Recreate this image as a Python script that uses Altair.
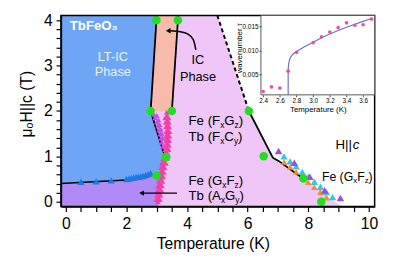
import altair as alt
import pandas as pd

FONT = "Liberation Sans"
XMIN, XMAX = -0.16, 10.19
YMIN, YMAX = -0.108, 4.108

# ---- phase-region outlines (Temperature K, field T) ----
lav_T = [XMIN, XMIN, 5.0, 6.04, 6.83, 7.02, 9.1]
lav_H = [YMIN, YMAX, YMAX, 2.0, 0.97, 0.9, YMIN]
blue_T = [XMIN, 3.0, 2.80, 3.28, 3.15, 3.02, 2.5, 2.0, XMIN]
blue_H = [YMAX, YMAX, 2.0, 1.0, 0.8, 0.62, 0.55, 0.48, 0.40]
purp_T = [XMIN, 2.0, 2.5, 3.02, 3.08, 3.05, XMIN]
purp_H = [0.40, 0.48, 0.55, 0.62, 0.3, YMIN, YMIN]
ic_T = [3.0, 3.71, 3.5, 2.8]
ic_H = [YMAX, YMAX, 2.0, 2.0]

# ---- boundary lines ----
b1_T = [3.0, 2.80, 3.27]; b1_H = [YMAX, 2.0, 1.0]
b2_T = [3.71, 3.5]; b2_H = [YMAX, 2.0]
b3_T = [6.04, 6.83, 7.02, 7.75]; b3_H = [2.0, 0.97, 0.9, 0.55]
b4_T = [XMIN, 2.0]; b4_H = [0.40, 0.48]
dash_T = [5.0, 6.04]; dash_H = [YMAX, 2.0]

# ---- data markers ----
pink_T = [3.04, 3.06, 3.08, 3.10, 3.12, 3.14, 3.16, 3.18, 3.21, 3.25, 3.29, 3.31, 3.33, 3.34, 3.35, 3.35, 3.36, 3.36, 3.35, 3.34, 3.33,
          3.10, 3.12, 3.15, 3.17, 3.19, 3.21, 3.23, 3.26, 3.30, 3.33, 3.37, 3.39, 3.40, 3.41, 3.42, 3.42, 3.41, 3.40, 3.39,
          2.99, 3.01, 3.03, 3.05, 3.07, 3.09, 3.11, 3.14, 3.17, 3.21, 3.25, 3.28, 3.30, 3.31, 3.31, 3.31, 3.30, 3.29, 3.28]
pink_H = [0.0, 0.1, 0.2, 0.3, 0.4, 0.5, 0.6, 0.7, 0.8, 0.9, 1.0, 1.1, 1.2, 1.3, 1.4, 1.5, 1.6, 1.7, 1.8, 1.9, 1.97,
          0.05, 0.15, 0.25, 0.35, 0.45, 0.55, 0.65, 0.75, 0.85, 0.95, 1.05, 1.15, 1.25, 1.35, 1.45, 1.55, 1.65, 1.75, 1.85,
          0.05, 0.15, 0.25, 0.35, 0.45, 0.55, 0.65, 0.75, 0.85, 0.95, 1.05, 1.15, 1.25, 1.35, 1.45, 1.55, 1.65, 1.75, 1.85]
viol_T = [2.90, 2.95, 3.00, 3.04, 3.08, 3.11, 3.14, 3.17, 3.20, 3.00, 3.06, 3.10, 3.14, 3.17, 3.20]
viol_H = [1.93, 1.85, 1.76, 1.67, 1.58, 1.49, 1.40, 1.31, 1.22, 1.90, 1.80, 1.70, 1.60, 1.50, 1.40]
blt_T = [0.5, 1.0, 1.5, 2.0, 2.08, 2.16, 2.24, 2.32, 2.40, 2.48, 2.56, 2.64, 2.72, 2.80]
blt_H = [0.44, 0.45, 0.47, 0.50, 0.51, 0.52, 0.53, 0.54, 0.55, 0.56, 0.57, 0.59, 0.61, 0.63]
pr_T = [7.02, 7.54, 8.05, 8.54, 9.06]
pr_H = [1.12, 0.86, 0.55, 0.25, 0.08]
cy_T = [7.2, 7.4, 7.6, 7.8, 8.0, 8.2, 8.4, 8.6, 8.8]
cy_H = [1.0, 0.89, 0.78, 0.66, 0.55, 0.44, 0.33, 0.21, 0.10]
or_T = [7.2, 7.4, 7.6, 7.8, 8.0, 8.2, 8.4, 8.6]
or_H = [0.88, 0.77, 0.66, 0.55, 0.43, 0.32, 0.21, 0.09]
gr_T = [2.99, 3.70, 2.80, 3.50, 3.31, 3.00, 6.04, 6.53, 7.84, 8.43]
gr_H = [4.0, 4.0, 2.0, 2.0, 0.98, 0.58, 2.0, 1.0, 0.51, 0.0]

# ---- arrows ----
arr1_T = [3.67, 2.55]; arr1_H = [0.19, 0.19]
arr2_T = [4.29, 4.2, 4.02, 3.78, 3.45]; arr2_H = [3.35, 3.58, 3.70, 3.75, 3.77]

# ---- axis ticks ----
XT = [i * 0.5 for i in range(0, 21)]
YT = [0, 0.2, 0.4, 0.6, 0.8, 1, 1.2, 1.4, 1.6, 1.8, 2, 2.2, 2.4, 2.6, 2.8, 3, 3.2, 3.4, 3.6, 3.8, 4]

# ---- inset data ----
TAU_T = [2.4, 2.5, 2.6, 2.7, 2.8, 3.0, 3.1, 3.2, 3.3, 3.4, 3.5, 3.6, 3.7]
TAU = [0.0015, 0.00245, 0.0022, 0.0057, 0.0096, 0.0116, 0.0128, 0.0138, 0.0147, 0.0157, 0.0152, 0.0153, 0.0165]
FIT_T = [2.70, 2.70, 2.705, 2.72, 2.75, 2.80, 2.90, 3.00, 3.10, 3.20, 3.30, 3.40, 3.50, 3.60, 3.70]
FIT = [0.0008, 0.0060, 0.0072, 0.0083, 0.0091, 0.0098, 0.0108, 0.0117, 0.0126, 0.0134, 0.0141, 0.0148, 0.0154, 0.0160, 0.0166]
IXT = [2.4, 2.6, 2.8, 3.0, 3.2, 3.4, 3.6]
IYT = [0.005, 0.010, 0.015]
IXMIN, IXMAX = 2.373, 3.738
IYMIN, IYMAX = 0.00081, 0.01723

AXCOMMON = dict(labelFont=FONT, titleFont=FONT, titleFontWeight="normal", labelColor="black",
                titleColor="black", grid=False)

XSC = alt.Scale(domain=[XMIN, XMAX], nice=False, zero=False)
YSC = alt.Scale(domain=[YMIN, YMAX], nice=False, zero=False)
XAX = alt.Axis(title="Temperature (K)", values=XT, format=".0f",
               labelExpr="datum.value % 2 == 0 ? datum.label : ''",
               tickSize=5, labelPadding=4, titlePadding=5, zindex=1, titleX=155,
               labelFontSize=16, titleFontSize=16, tickColor="black", domainColor="black",
               domainWidth=1.5, tickWidth=1.2, **AXCOMMON)
YAX = alt.Axis(title="μₒH||c (T)", values=YT,
               labelExpr="abs(datum.value - round(datum.value)) < 0.01 ? format(datum.value, 'd') : ''",
               tickSize=5, labelPadding=4, titlePadding=9, zindex=1, titleY=90,
               labelFontSize=16, titleFontSize=16, tickColor="black", domainColor="black",
               domainWidth=1.5, tickWidth=1.2, **AXCOMMON)


def X(f="x"):
    return alt.X(f"{f}:Q", scale=XSC, axis=XAX)


def Y(f="y"):
    return alt.Y(f"{f}:Q", scale=YSC, axis=YAX)


def df(xs, ys):
    return pd.DataFrame({"x": xs, "y": ys, "i": list(range(len(xs)))})


def poly(xs, ys, color):
    return alt.Chart(df(xs, ys)).mark_line(fill=color, stroke=color, strokeWidth=0.5).encode(
        x=X(), y=Y(), order="i:Q")


def line(xs, ys, **kw):
    return alt.Chart(df(xs, ys)).mark_line(color="black", **kw).encode(x=X(), y=Y(), order="i:Q")


def pts(xs, ys, color, shape="triangle-up", size=50):
    return alt.Chart(df(xs, ys)).mark_point(shape=shape, filled=True, color=color, size=size, opacity=1).encode(
        x=X(), y=Y())


def txt(x, y, s, **kw):
    d = pd.DataFrame({"x": [x], "y": [y], "t": [s]})
    base = dict(font=FONT, fontSize=12.5, color="black", baseline="middle")
    base.update(kw)
    return alt.Chart(d).mark_text(**base).encode(x=X(), y=Y(), text="t:N")


WID = {'F': .611, 'e': .556, ' ': .278, '(': .333, ')': .333, 'G': .778, 'T': .611, 'b': .556,
       'C': .722, 'A': .667, 'x': .5, 'y': .5, 'z': .5, 'H': .722, '|': .26, 'c': .5}


def seg_label(x, y, parts, size=12.5, sub=8):
    out = []
    dx = 0.0
    for s, is_sub in parts:
        fs = sub if is_sub else size
        out.append(txt(x, y, s, align="left", dx=dx, dy=(3.5 if is_sub else 0), fontSize=fs))
        dx += sum(WID.get(c, .55) for c in s) * fs
    return out


layers = [
    poly(lav_T, lav_H, "#EFC6F7"),
    poly(purp_T, purp_H, "#B08BF6"),
    poly(blue_T, blue_H, "#6EA6F5"),
    poly(ic_T, ic_H, "#F7BBAB"),
    line(b1_T, b1_H, strokeWidth=1.8),
    line(b2_T, b2_H, strokeWidth=1.8),
    line(b3_T, b3_H, strokeWidth=1.8),
    line(b4_T, b4_H, strokeWidth=1.5),
    line(dash_T, dash_H, strokeWidth=2, strokeDash=[4, 3]),
    pts(viol_T, viol_H, "#C64DE6", size=34),
    pts(pink_T, pink_H, "#F23FAA", size=34),
    pts(blt_T, blt_H, "#1F78E3", size=55),
    pts(cy_T, cy_H, "#2BC8EA", size=55),
    pts(or_T, or_H, "#F28E2E", size=45),
    pts(pr_T, pr_H, "#9B4DE9", size=60),
    pts(gr_T, gr_H, "#1FE01F", shape="circle", size=75),
    line(arr1_T, arr1_H, strokeWidth=1.2),
    pts([2.5], [0.19], "black", shape="triangle-left", size=30),
    alt.Chart(df(arr2_T, arr2_H)).mark_line(color="black", strokeWidth=1.5, interpolate="cardinal").encode(
        x=X(), y=Y(), order="i:Q"),
    pts([3.38], [3.77], "black", shape="triangle-left", size=30),
    txt(0.13, 3.87, "TbFeO₃", align="left", fontWeight="bold", fontSize=13.5, color="white"),
    txt(1.55, 3.19, "LT-IC", align="center", fontSize=13, color="#EAF0FB"),
    txt(1.55, 2.85, "Phase", align="center", fontSize=13, color="#EAF0FB"),
    txt(4.36, 3.13, "IC", align="center", fontSize=13),
    txt(4.36, 2.75, "Phase", align="center", fontSize=13),
]
layers += seg_label(4.05, 1.77, [("Fe (F", False), ("x", True), ("G", False), ("z", True), (")", False)], 13.5, 8.5)
layers += seg_label(4.05, 1.42, [("Tb (F", False), ("x", True), ("C", False), ("y", True), (")", False)], 13.5, 8.5)
layers += seg_label(4.05, 0.45, [("Fe (G", False), ("x", True), ("F", False), ("z", True), (")", False)], 13.5, 8.5)
layers += seg_label(4.05, 0.12, [("Tb (A", False), ("x", True), ("G", False), ("y", True), (")", False)], 13.5, 8.5)
layers += seg_label(8.45, 0.54, [("Fe (G", False), ("x", True), ("F", False), ("z", True), (")", False)])
layers += [txt(8.9, 1.25, "H||", align="left", fontSize=13.5),
           txt(8.9, 1.25, "c", align="left", fontSize=13.5, fontStyle="italic", dx=17.5)]
frame = alt.Chart(pd.DataFrame({"x": [XMIN], "x2": [XMAX], "y": [YMIN], "y2": [YMAX]})).mark_rect(
    fillOpacity=0, stroke="black", strokeWidth=1.5).encode(x=X(), x2="x2", y=Y(), y2="y2")
layers.append(frame)
main = alt.layer(*layers)

# ---- inset ----
IXS = alt.Scale(domain=[IXMIN, IXMAX], range=[204, 320], nice=False, zero=False)
IYS = alt.Scale(domain=[IYMIN, IYMAX], range=[81, 0], nice=False, zero=False)
IXA = alt.Axis(title="Temperature (K)", orient="bottom", offset=-114, values=IXT, format=".1f",
               domain=False, tickSize=2, labelFontSize=6.5, titleFontSize=8, labelPadding=1,
               titlePadding=2, zindex=1, tickColor="#444", **AXCOMMON)
IYA = alt.Axis(title="wavenumber τ", orient="left", offset=-204, values=IYT, format=".3f",
               domain=False, tickSize=2, labelFontSize=6.5, titleFontSize=8, labelPadding=1,
               titleX=-18, titleY=33, titleBaseline="bottom", titleAngle=270,
               zindex=1, tickColor="#444", **AXCOMMON)


def IX(f="t"):
    return alt.X(f"{f}:Q", scale=IXS, axis=IXA)


def IY(f="v"):
    return alt.Y(f"{f}:Q", scale=IYS, axis=IYA)


ibox = alt.Chart(pd.DataFrame({"t": [IXMIN], "t2": [IXMAX], "v": [IYMIN], "v2": [IYMAX]})).mark_rect(
    fill="white", stroke="#555", strokeWidth=1).encode(x=IX(), x2="t2", y=IY(), y2="v2")
ifit = alt.Chart(pd.DataFrame({"t": FIT_T, "v": FIT, "i": list(range(len(FIT)))})).mark_line(
    color="#6B73C9", strokeWidth=1.2).encode(x=IX(), y=IY(), order="i:Q")
ipts = alt.Chart(pd.DataFrame({"t": TAU_T, "v": TAU})).mark_point(
    filled=True, color="#EE4FA0", size=14, opacity=1).encode(x=IX(), y=IY())
inset = alt.layer(ibox, ifit, ipts)

chart = alt.layer(main, inset).resolve_scale(x="independent", y="independent").properties(
    width=320, height=195,
    background="white",
    autosize=alt.AutoSizeParams(type="none"),
    padding={"left": 54, "top": 5, "right": 33, "bottom": 58},
).configure_view(strokeWidth=0)

chart.save("out.html", embed_options={"renderer": "svg", "actions": False})
